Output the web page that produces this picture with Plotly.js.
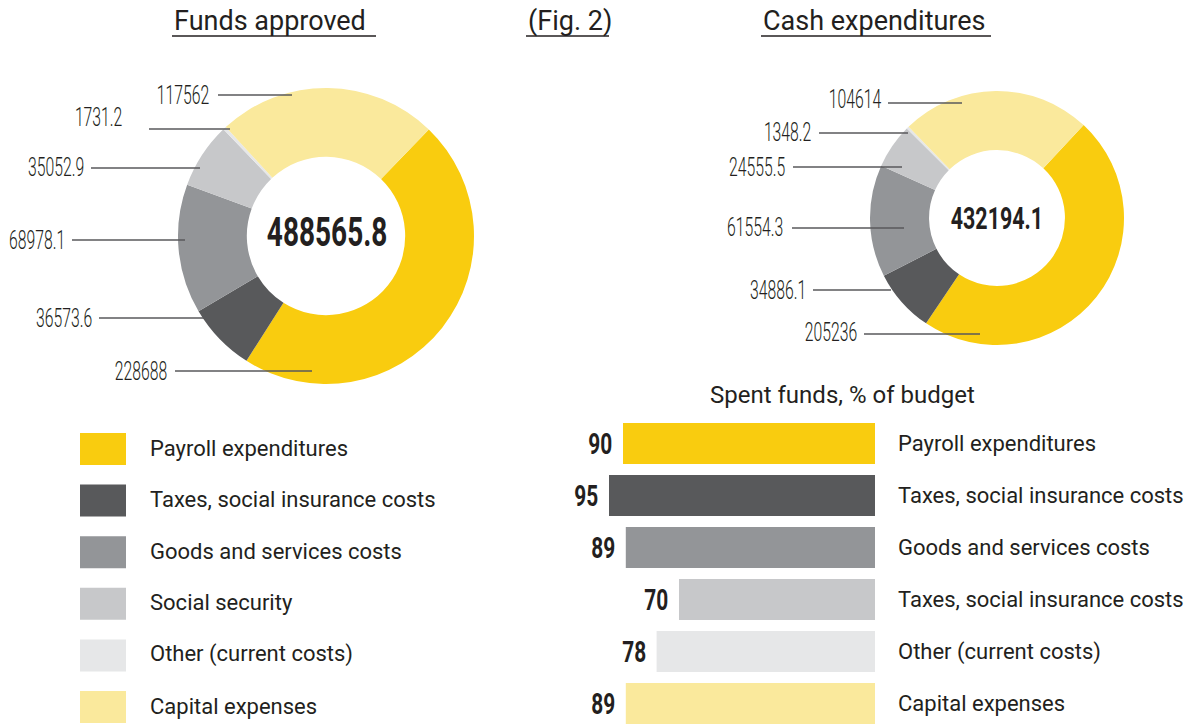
<!DOCTYPE html>
<html><head><meta charset="utf-8">
<script src="https://cdn.plot.ly/plotly-3.0.1.min.js"></script>
<style>html,body{margin:0;padding:0;background:#fff}#chart{width:1192px;height:724px}</style>
</head><body><div id="chart"></div>
<script>
// ---------- DATA ----------
const categories = ['Payroll expenditures','Taxes, social insurance costs','Goods and services costs','Social security','Other (current costs)','Capital expenses'];
const approvedValues = [228688, 36573.6, 68978.1, 35052.9, 1731.2, 117562];
const cashValues = [205236, 34886.1, 61554.3, 24555.5, 1348.2, 104614];
const approvedTotalLabel = '488565.8';
const cashTotalLabel = '432194.1';
const spentPercent = [90, 95, 89, 70, 78, 89];
const spentLabels = ['Payroll expenditures','Taxes, social insurance costs','Goods and services costs','Taxes, social insurance costs','Other (current costs)','Capital expenses'];
const titles = ['Funds approved', '(Fig. 2)', 'Cash expenditures'];
const barTitle = 'Spent funds, % of budget';

// ---------- STYLE / LAYOUT ----------
const sliceColors = ['#f9cc0f','#58595b','#939598','#c7c8ca','#e6e7e8','#fae99c'];
const textColor = '#231f20';
const lineColor = '#58595b';
const sans = 'Roboto, "Open Sans", sans-serif';
const W = 1192, H = 724;
const px = x => x / W, py = y => 1 - y / H;

// label placement (pixel layout): [text right edge, text y, line x0, line x1, line y]
const leftLabelPos = [[169,371,175,312,371],[94,318,99,204,318],[67,240,72,185,240],[86,168,91,200,168],[124,117,149,230,129],[211,95,218,292,95]];
const rightLabelPos = [[859,332,864,980,334],[808,290,813,891,290],[785,228,792,904,228],[787,168,793,902,167],[813,133,819,908,133],[883,100,888,962,103]];

const annotations = [];
const shapes = [];
const condensed = {};   // annotation index -> horizontal condensing (font look)
function addCond(ann, sx) { condensed[annotations.length] = {sx, anchor: ann.xanchor}; annotations.push(ann); }

function pieLabels(values, pos) {
  values.forEach((v, i) => {
    const p = pos[i];
    addCond({xref:'paper', yref:'paper', x:px(p[0]), y:py(p[1]), xanchor:'right', yanchor:'middle',
      text:String(v), showarrow:false, font:{family:sans, size:25, weight:300, color:textColor}}, 0.63);
    shapes.push({type:'line', xref:'paper', yref:'paper', x0:px(p[2]), x1:px(p[3]), y0:py(p[4]), y1:py(p[4]),
      line:{color:lineColor, width:1.3}});
  });
}
pieLabels(approvedValues, leftLabelPos);
pieLabels(cashValues, rightLabelPos);

// centre totals
addCond({xref:'paper', yref:'paper', x:px(327), y:py(232), xanchor:'center', yanchor:'middle',
  text:approvedTotalLabel, showarrow:false, font:{family:sans, size:40, weight:700, color:textColor}}, 0.7);
addCond({xref:'paper', yref:'paper', x:px(997), y:py(218), xanchor:'center', yanchor:'middle',
  text:cashTotalLabel, showarrow:false, font:{family:sans, size:32, weight:700, color:textColor}}, 0.67);

// titles with underline
const titlePos = [[172,376],[526,609],[761,991]];
titles.forEach((t, i) => {
  const [a, b] = titlePos[i];
  annotations.push({xref:'paper', yref:'paper', x:px(a), y:py(21), xanchor:'left', yanchor:'middle',
    text:t, showarrow:false, font:{family:sans, size:27, color:textColor}});
  shapes.push({type:'line', xref:'paper', yref:'paper', x0:px(a), x1:px(b), y0:py(36), y1:py(36),
    line:{color:textColor, width:1.5}});
});

// bar title
annotations.push({xref:'paper', yref:'paper', x:px(842), y:py(395), xanchor:'center', yanchor:'middle',
  text:barTitle, showarrow:false, font:{family:sans, size:24, color:textColor}});

// bar value labels
spentPercent.forEach((v, i) => {
  addCond({xref:'x2', yref:'y2', x:v, y:i, xanchor:'right', yanchor:'middle', xshift:-9,
    text:String(v), showarrow:false, font:{family:sans, size:29, weight:700, color:textColor}}, 0.72);
});

// legend (left)
categories.forEach((c, i) => {
  const top = 433 + i * 51.6;
  shapes.push({type:'rect', xref:'paper', yref:'paper', x0:px(80), x1:px(126), y0:py(top+32), y1:py(top),
    fillcolor:sliceColors[i], line:{width:0}});
  annotations.push({xref:'paper', yref:'paper', x:px(148), y:py(top+15), xanchor:'left', yanchor:'middle',
    text:c, showarrow:false, font:{family:sans, size:22, color:textColor}});
});

const traces = [
  {type:'pie', values:approvedValues, labels:categories, sort:false, direction:'clockwise', rotation:44,
   hole:0.535, marker:{colors:sliceColors, line:{width:0}}, textinfo:'none', showlegend:false,
   domain:{x:[px(178), px(474)], y:[py(384), py(88)]}},
  {type:'pie', values:cashValues, labels:categories, sort:false, direction:'clockwise', rotation:43,
   hole:0.535, marker:{colors:sliceColors, line:{width:0}}, textinfo:'none', showlegend:false,
   domain:{x:[px(870), px(1124)], y:[py(345), py(91)]}},
  {type:'bar', orientation:'h', x:spentPercent, y:spentPercent.map((_, i) => i), xaxis:'x2', yaxis:'y2',
   width:0.79, marker:{color:sliceColors, line:{width:0}}, showlegend:false, hoverinfo:'x'}
];

const layout = {
  width:W, height:H, margin:{l:0, r:0, t:0, b:0}, paper_bgcolor:'#fff', plot_bgcolor:'rgba(0,0,0,0)',
  showlegend:false,
  xaxis2:{domain:[px(595), px(875)], range:[100, 0], visible:false, fixedrange:true, anchor:'y2'},
  yaxis2:{domain:[0, py(417.5)], range:[5.394, -0.5], anchor:'x2', side:'right',
    tickmode:'array', tickvals:spentLabels.map((_, i) => i), ticktext:spentLabels,
    showgrid:false, zeroline:false, showline:false, ticks:'', ticklabelstandoff:22,
    tickfont:{family:sans, size:22, color:textColor}, fixedrange:true},
  annotations, shapes
};

Plotly.newPlot('chart', traces, layout, {displayModeBar:false, staticPlot:true}).then(gd => {
  // condensed-face look: squeeze the number texts horizontally around their anchor
  gd.querySelectorAll('g.annotation').forEach(g => {
    const c = condensed[+g.getAttribute('data-index')];
    if (!c) return;
    const t = g.querySelector('text.annotation-text');
    if (!t) return;
    const bb = t.getBBox();
    const ax = c.anchor === 'right' ? bb.x + bb.width : bb.x + bb.width / 2;
    t.setAttribute('transform', `translate(${ax},0) scale(${c.sx},1) translate(${-ax},0)`);
  });
});
</script>
</body></html>
